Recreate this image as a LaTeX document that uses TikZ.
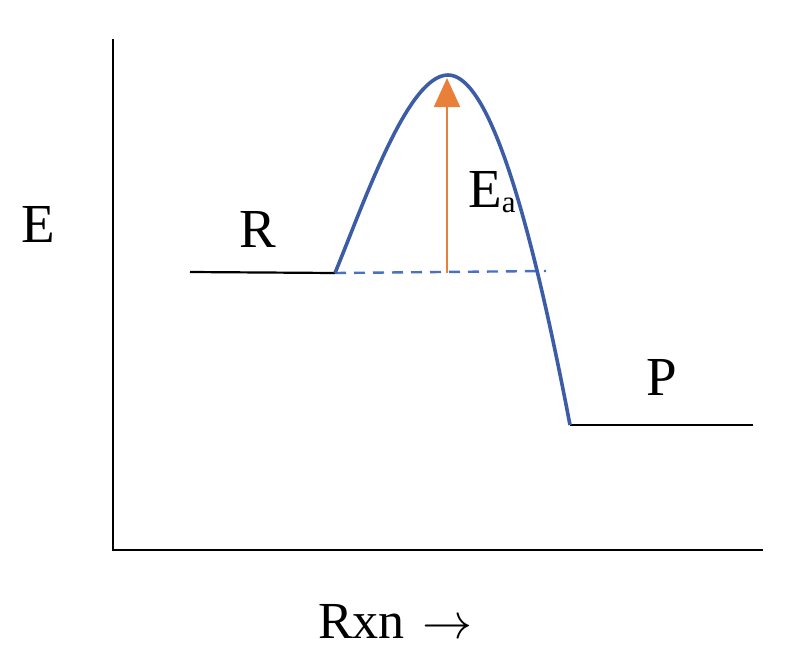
\documentclass[tikz,border=0pt]{standalone}
\usepackage{fontspec}
\setmainfont{Liberation Serif}
\usetikzlibrary{arrows.meta}
\definecolor{curveblue}{HTML}{3C5DA6}
\definecolor{dashblue}{HTML}{4A70C0}
\definecolor{eaorange}{HTML}{E8803A}
\tikzset{
  lbl/.style={anchor=base, inner sep=0pt, font=\fontsize{55}{60}\selectfont},
  axisline/.style={line width=2.4pt, black},
  levelline/.style={line width=2.2pt, black},
  energycurve/.style={line width=3.6pt, curveblue, line join=round},
  dashref/.style={line width=2.4pt, dashblue, dash pattern=on 11pt off 8pt},
  eaarrow/.style={line width=2pt, eaorange, -{Triangle[width=26pt,length=29pt]}},
}
\begin{document}
\begin{tikzpicture}[x=1pt,y=-1pt]
\useasboundingbox (0,0) rectangle (788,659);
% axes
\coordinate (ytop) at (113,39);
\coordinate (origin) at (113,550);
\coordinate (xend) at (763,550);
\draw[axisline] (ytop) -- (origin) -- (xend);
% levels
\coordinate (r0) at (190,272);
\coordinate (r1) at (335,273);
\coordinate (peak) at (448,75);
\coordinate (p0) at (570,425);
\coordinate (p1) at (753,425);
\coordinate (dend) at (546,271);
\draw[levelline] (r0) -- (r1);
\draw[levelline] (p0) -- (p1);
\draw[dashref] (r1) -- (dend);
\draw[energycurve] (r1) .. controls (365,200) and (408,75) .. (peak)
  .. controls (485,75) and (525,190) .. (p0);
% activation energy arrow
\coordinate (eabot) at (447,273);
\coordinate (eatop) at (447,78);
\draw[eaarrow] (eabot) -- (eatop);
% labels
\node[lbl] (elab) at (38,242) {E};
\node[lbl] (rlab) at (257.5,247) {R};
\node[lbl] (plab) at (661.5,395) {P};
\node[lbl, anchor=base west] (ealab) at (468,207) {E{\fontsize{31}{31}\selectfont\raisebox{-5pt}{a}}};
\node[lbl, anchor=base west, font=\fontsize{52}{60}\selectfont] (xlab) at (318,638) {Rxn\hspace{18pt}\resizebox{50pt}{!}{$\rightarrow$}};
\end{tikzpicture}
\end{document}
